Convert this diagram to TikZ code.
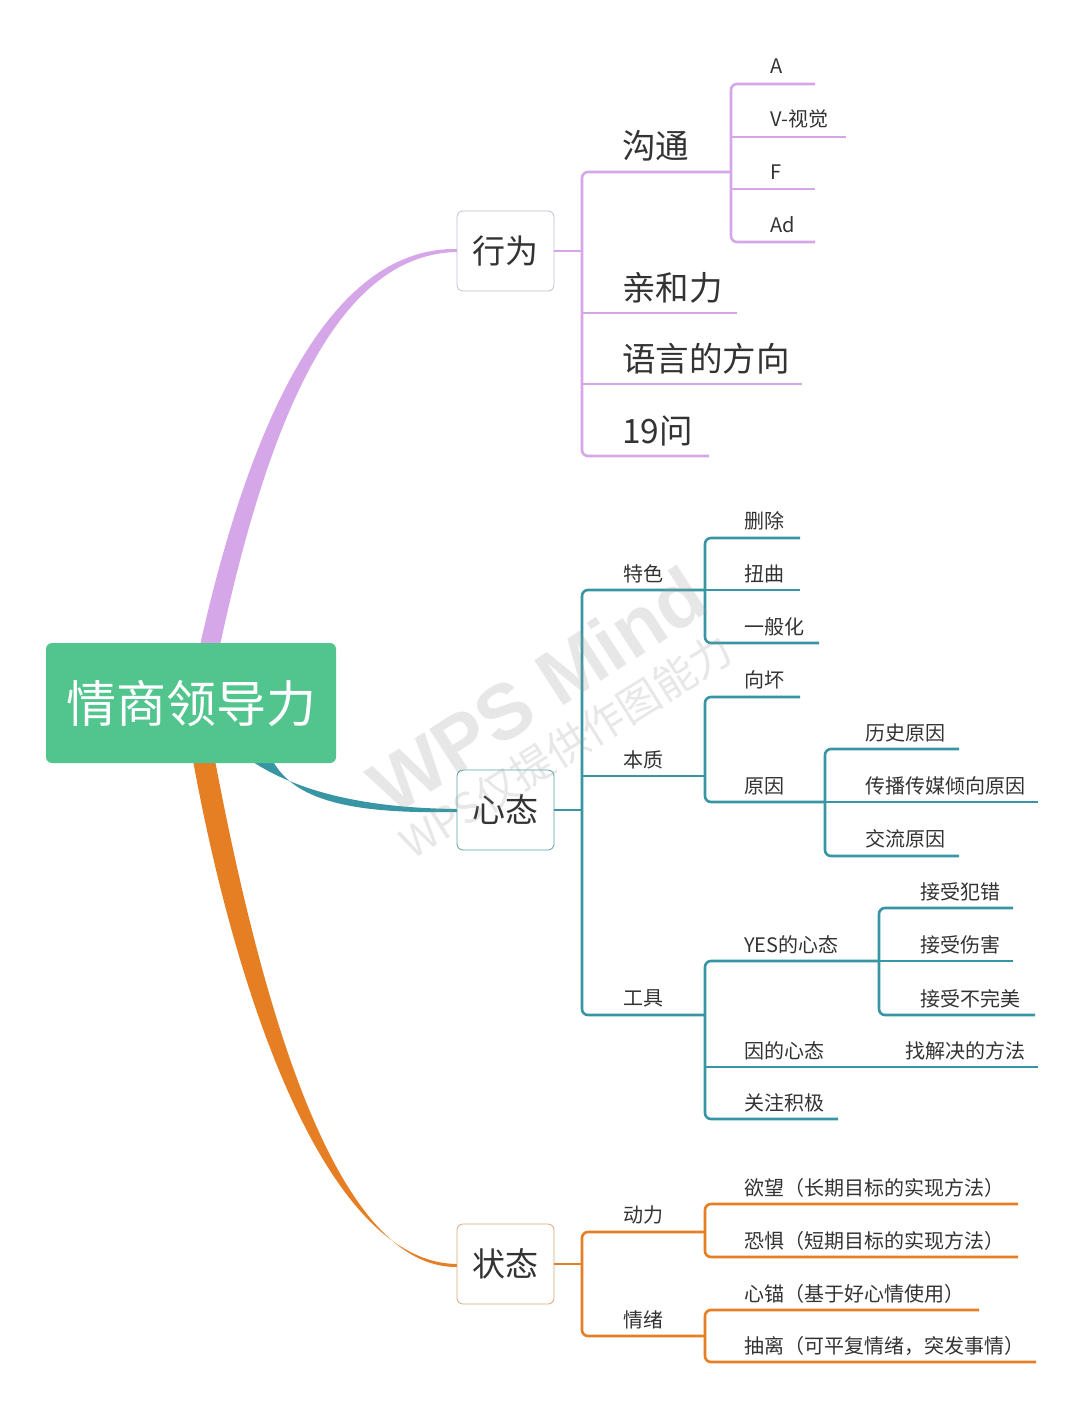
\documentclass[tikz,border=0pt]{standalone}
\usepackage{fontspec}
\setmainfont{Noto Sans CJK SC}
\newfontfamily\wmlatin{Liberation Sans}
\definecolor{mmpurple}{RGB}{213,167,232}
\definecolor{mmteal}{RGB}{56,150,164}
\definecolor{mmorange}{RGB}{230,126,36}
\definecolor{mmgreen}{RGB}{82,196,142}
\definecolor{mmtext}{RGB}{51,51,51}
\definecolor{mmwm}{RGB}{150,150,150}
\definecolor{boxpurple}{RGB}{200,188,214}
\definecolor{boxteal}{RGB}{90,160,170}
\definecolor{boxorange}{RGB}{212,168,128}
\tikzset{
  tx/.style={text=mmtext, inner sep=0pt, anchor=base west},
  fs/.style={tx, font=\fontsize{20}{24}\selectfont},
  fb/.style={tx, font=\fontsize{33.5}{40}\selectfont},
  lbox/.style={draw, fill=white, rounded corners=6pt, minimum width=97pt,
    minimum height=80pt, line width=0.8pt, inner sep=0pt, text=mmtext,
    font=\fontsize{33}{40}\selectfont},
  rootbox/.style={fill=mmgreen, rounded corners=6pt, minimum width=290pt,
    minimum height=120pt, inner sep=0pt, text=white,
    font=\fontsize{50}{60}\selectfont},
  pl/.style={draw=mmpurple, line width=2.6pt, rounded corners=6pt},
  tl/.style={draw=mmteal, line width=2.6pt, rounded corners=6pt},
  ol/.style={draw=mmorange, line width=2.6pt, rounded corners=6pt},
  wmark/.style={text=mmwm, text opacity=0.22, inner sep=0pt},
}
\begin{document}
\begin{tikzpicture}[x=1pt,y=-1pt]
\fill[white] (0,0) rectangle (1081,1407);
\useasboundingbox (0,0) rectangle (1081,1407);

% main tapered branches
\fill[mmpurple] (199,650) .. controls (254,400) and (338,247) .. (457,249)
  -- (457,252) .. controls (344,254) and (272,400) .. (219,650) -- cycle;
\fill[mmteal] (243,755) .. controls (290,790) and (360,808) .. (457,809)
  -- (457,812) .. controls (355,814) and (290,802) .. (270,755) -- cycle;
\fill[mmorange] (192,755) .. controls (238,1010) and (330,1263) .. (457,1264)
  -- (457,1267) .. controls (336,1268) and (262,1010) .. (214,755) -- cycle;

% root
\node[rootbox] (root) at (191,703) {情商领导力};

% level-1 boxes
\node[lbox, draw=boxpurple] (xw) at (505.5,251) {行为};
\node[lbox, draw=boxteal] (xt) at (505.5,810) {心态};
\node[lbox, draw=boxorange] (zt) at (505.5,1264) {状态};

% ===== 行为 =====
\coordinate (xwB) at (582,251);
\draw[pl] (xw.east) -- (xwB);
\coordinate (gtE) at (731,172);
\coordinate (wE) at (709,456);
\draw[pl] (gtE) -- (582,172) -- (582,456) -- (wE);
\coordinate (hlE) at (737,313);
\coordinate (yyE) at (802,384);
\draw[pl] (582,313) -- (hlE);
\draw[pl] (582,384) -- (yyE);
\node[fb] (gt) at (622,159) {沟通};
\node[fb] (hl) at (622,300) {亲和力};
\node[fb] (yy) at (622,371) {语言的方向};
\node[fb] (w19) at (622,443) {19问};
% 沟通 children
\coordinate (aE) at (815,84);
\coordinate (adE) at (815,242);
\draw[pl] (aE) -- (731,84) -- (731,242) -- (adE);
\coordinate (vE) at (846,137);
\coordinate (fE) at (815,189);
\draw[pl] (731,137) -- (vE);
\draw[pl] (731,189) -- (fE);
\node[fs] (a) at (770,74) {A};
\node[fs] (v) at (770,127) {V-视觉};
\node[fs] (f) at (770,179) {F};
\node[fs] (ad) at (770,232) {Ad};

% ===== 心态 =====
\coordinate (xtB) at (582,810);
\draw[tl] (xt.east) -- (xtB);
\draw[tl] (705,590) -- (582,590) -- (582,1015) -- (705,1015);
\draw[tl] (582,776) -- (705,776);
\node[fs] (ts) at (623,581) {特色};
\node[fs] (bz) at (623,767) {本质};
\node[fs] (gj) at (623,1005) {工具};
% 特色
\draw[tl] (800,538) -- (705,538) -- (705,643) -- (819,643);
\draw[tl] (705,590) -- (800,590);
\node[fs] (sc) at (744,528) {删除};
\node[fs] (nq) at (744,581) {扭曲};
\node[fs] (ybh) at (744,634) {一般化};
% 本质
\draw[tl] (800,697) -- (705,697) -- (705,802) -- (826,802);
\node[fs] (xh) at (744,687) {向坏};
\node[fs] (yy2) at (744,793) {原因};
% 原因
\draw[tl] (959,749) -- (825,749) -- (825,856) -- (959,856);
\draw[tl] (825,802) -- (1038,802);
\node[fs] (ls) at (865,740) {历史原因};
\node[fs] (cb) at (865,793) {传播传媒倾向原因};
\node[fs] (jl) at (865,846) {交流原因};
% 工具
\draw[tl] (879,961) -- (705,961) -- (705,1119) -- (838,1119);
\draw[tl] (705,1067) -- (1038,1067);
\node[fs] (yes) at (744,952) {YES的心态};
\node[fs] (yd) at (744,1058) {因的心态};
\node[fs] (zj) at (905,1058) {找解决的方法};
\node[fs] (gz) at (744,1110) {关注积极};
% YES
\draw[tl] (1013,908) -- (879,908) -- (879,1015) -- (1035,1015);
\draw[tl] (879,961) -- (1013,961);
\node[fs] (jf) at (920,899) {接受犯错};
\node[fs] (jsh) at (920,952) {接受伤害};
\node[fs] (jbw) at (920,1006) {接受不完美};

% ===== 状态 =====
\coordinate (ztB) at (582,1264);
\draw[ol] (zt.east) -- (ztB);
\draw[ol] (705,1232) -- (582,1232) -- (582,1336) -- (705,1336);
\node[fs] (dl) at (623,1222) {动力};
\node[fs] (qx) at (623,1327) {情绪};
\draw[ol] (1018,1204) -- (705,1204) -- (705,1257) -- (1018,1257);
\draw[ol] (979,1310) -- (705,1310) -- (705,1362) -- (1036,1362);
\node[fs] (yw) at (744,1195) {欲望（长期目标的实现方法）};
\node[fs] (kj) at (744,1248) {恐惧（短期目标的实现方法）};
\node[fs] (xm) at (744,1301) {心锚（基于好心情使用）};
\node[fs] (cl) at (744,1353) {抽离（可平复情绪，突发事情）};

% watermark overlay
\node[wmark, rotate=33, font=\wmlatin\bfseries\fontsize{78}{90}\selectfont] (wm1) at (537,690) {WPS Mind};
\node[wmark, rotate=32, font=\fontsize{42}{50}\selectfont] (wm2) at (566,746) {WPS仅提供作图能力};
\end{tikzpicture}
\end{document}
